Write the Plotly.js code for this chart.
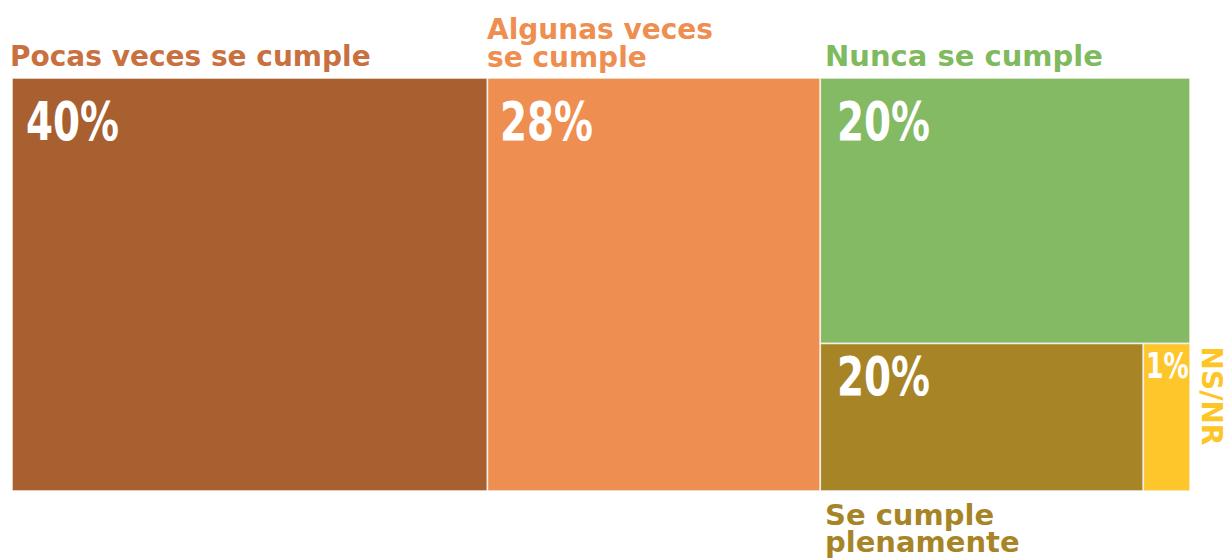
<!DOCTYPE html>
<html>
<head>
<meta charset="utf-8">
<script src="https://cdn.plot.ly/plotly-3.0.1.min.js"></script>
<style>
html,body{margin:0;padding:0;background:#fff;}
#chart{width:1232px;height:558px;}
</style>
</head>
<body>
<div id="chart"></div>
<script>
const categories = ["Pocas veces se cumple", "Algunas veces<br>se cumple", "Nunca se cumple", "Se cumple<br>plenamente", "NS/NR"];
const values = [40, 28, 20, 9.7, 1.4];
const pctLabels = ["40%", "28%", "20%", "20%", "1%"];
const fillColors = ["#A86030", "#EE8E50", "#84BA63", "#A78527", "#FEC62A"];
const labelColors = ["#C8703F", "#EE8E50", "#7FBA5E", "#A78527", "#FDC526"];

const total = values.reduce((a, b) => a + b, 0);
const right = values[2] + values[3] + values[4];
const xr = values[0] + values[1];
const splitY = (values[3] + values[4]) / right;
const splitX = xr + right * values[3] / (values[3] + values[4]);
const rects = [
  {x0: 0, x1: values[0], y0: 0, y1: 1},
  {x0: values[0], x1: xr, y0: 0, y1: 1},
  {x0: xr, x1: total, y0: splitY, y1: 1},
  {x0: xr, x1: splitX, y0: 0, y1: splitY},
  {x0: splitX, x1: total, y0: 0, y1: splitY}
];

const trace = {
  type: 'bar',
  x: rects.map(r => (r.x0 + r.x1) / 2),
  width: rects.map(r => r.x1 - r.x0),
  base: rects.map(r => r.y0),
  y: rects.map(r => r.y1 - r.y0),
  marker: {color: fillColors, line: {color: '#F4EFE6', width: 1.5}},
  hoverinfo: 'skip',
  textposition: 'none'
};

const catFont = (c, s) => ({family: '"DejaVu Sans", sans-serif', size: s, color: c, weight: 700});

const annotations = [];
// percentage labels: [xshift, yshift, size]
const pctPos = [[12, -10, 54], [11, -10, 54], [15, -10, 54], [15, 1, 54], [1, 1, 36]];
rects.forEach((r, i) => {
  const p = pctPos[i];
  annotations.push({
    x: r.x0, y: r.y1, xref: 'x', yref: 'y',
    xanchor: 'left', yanchor: 'top',
    xshift: p[0], yshift: p[1],
    text: pctLabels[i], showarrow: false,
    font: {family: '"DejaVu Sans", sans-serif', size: p[2], color: '#FFFFFF', weight: 700}
  });
});

function addLabel(text, xval, yval, xshift, yshift, color, size, yanchor) {
  annotations.push({x: xval, y: yval, xref: 'x', yref: 'y', xanchor: 'left', yanchor: yanchor, align: 'left',
    xshift: xshift, yshift: yshift, text: text, showarrow: false, font: catFont(color, size)});
}
addLabel(categories[0], rects[0].x0, 1, -4, 3, labelColors[0], 28, 'bottom');
addLabel(categories[1], rects[1].x0, 1, -2, 67, labelColors[1], 28, 'top');
addLabel(categories[2], rects[2].x0, 1, 3, 3, labelColors[2], 29, 'bottom');
addLabel(categories[3], rects[3].x0, 0, 3, -5, labelColors[3], 29, 'top');
annotations.push({x: rects[4].x1, y: rects[4].y1, xref: 'x', yref: 'y', xanchor: 'left', yanchor: 'top', xshift: 3, yshift: -1,
  textangle: 90, text: categories[4], showarrow: false, font: catFont(labelColors[4], 28)});

const layout = {
  width: 1232, height: 558,
  margin: {l: 12, r: 42, t: 78, b: 67},
  paper_bgcolor: '#FFFFFF', plot_bgcolor: '#FFFFFF',
  showlegend: false,
  barmode: 'overlay',
  xaxis: {range: [0, total], visible: false, fixedrange: true},
  yaxis: {range: [0, 1], visible: false, fixedrange: true},
  annotations: annotations
};
Plotly.newPlot('chart', [trace], layout, {displayModeBar: false, staticPlot: true}).then(function () {
  const texts = document.querySelectorAll('#chart .annotation-text');
  // narrow the percentage figures to mimic the condensed display face
  const scales = [0.72, 0.72, 0.72, 0.72, 0.7];
  // tighter line spacing for the two-line category labels
  const lineGap = {6: 28, 8: 27};
  texts.forEach(function (t, i) {
    if (i < 5) {
      t.style.transformBox = 'fill-box';
      t.style.transformOrigin = 'left top';
      t.style.transform = 'scaleX(' + scales[i] + ')';
    }
    if (lineGap[i]) {
      const lines = t.querySelectorAll('tspan.line');
      lines.forEach(function (ln, k) { if (k > 0) ln.setAttribute('dy', lineGap[i] + 'px'); });
    }
  });
});
</script>
</body>
</html>
